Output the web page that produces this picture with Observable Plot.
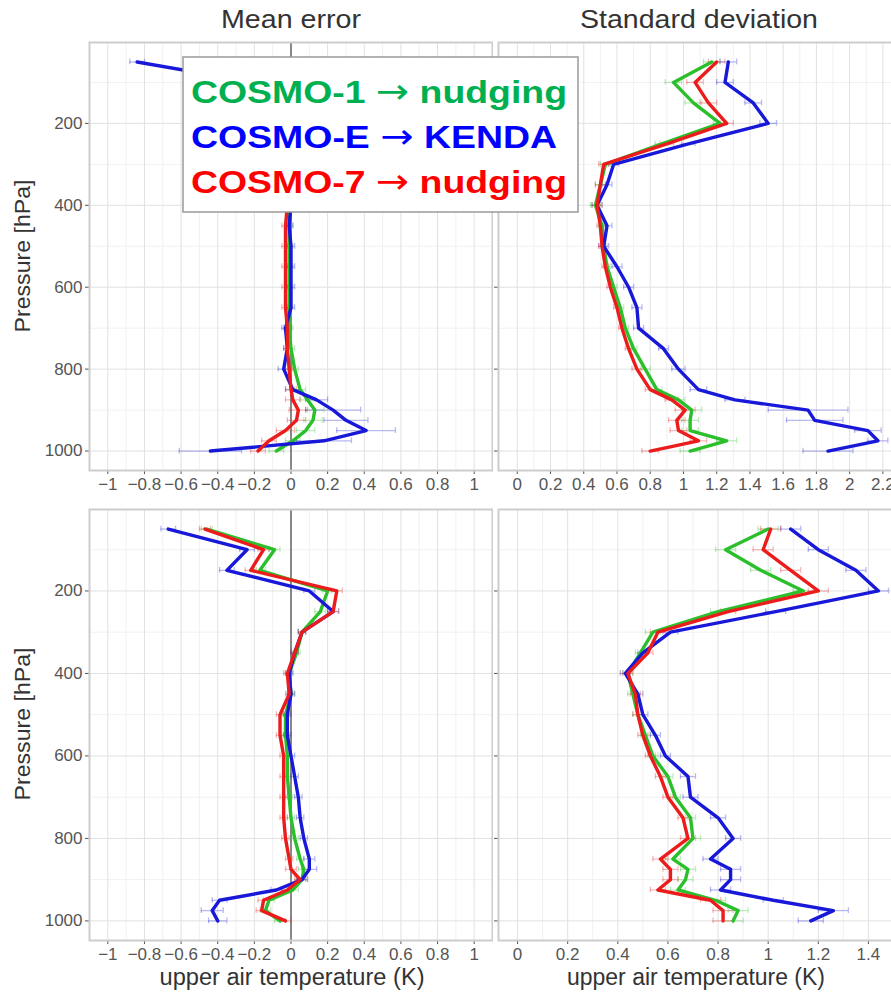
<!DOCTYPE html>
<html>
<head>
<meta charset="utf-8">
<script src="https://cdn.jsdelivr.net/npm/d3@7"></script>
<script src="https://cdn.jsdelivr.net/npm/@observablehq/plot@0.6"></script>
<style>
html, body { margin: 0; padding: 0; background: #fff; overflow: hidden; }
#root { position: relative; width: 891px; height: 994px; overflow: hidden; background: #fff; }
#root > svg { position: absolute; }
</style>
</head>
<body>
<div id="root"></div>
<script>
// ---------- data ----------
const pressure = [50,100,150,200,250,300,350,400,450,500,550,600,650,700,750,800,850,875,900,925,950,975,1000];

const seriesModels = ["COSMO-1", "COSMO-E", "COSMO-7"];
const seriesSchemes = ["nudging", "KENDA", "nudging"];
const panelTitles = ["Mean error", "Standard deviation"];
const xTitle = "upper air temperature (K)";
const yTitle = "Pressure [hPa]";

// top row: mean error
const meanTopGreen = [-0.50,-0.10,-0.05,0.03,0.02,0.00,0.00,-0.01,-0.01,-0.01,-0.01,-0.01,-0.01,-0.01,0.00,0.02,0.05,0.09,0.13,0.12,0.08,0.01,-0.08];
const meanTopBlue  = [-0.84,-0.20,-0.05,0.05,0.02,0.00,0.00,0.00,-0.01,0.00,0.00,0.00,0.00,-0.03,-0.02,-0.04,0.01,0.14,0.23,0.30,0.41,0.18,-0.44];
const meanTopRed   = [-0.45,-0.12,-0.06,0.02,0.01,-0.01,-0.02,-0.02,-0.03,-0.03,-0.03,-0.03,-0.03,-0.02,-0.02,-0.01,0.00,0.01,0.04,0.03,-0.03,-0.12,-0.18];
const meanTopGreenErr = [0.03,0.03,0.03,0.03,0.02,0.02,0.02,0.02,0.02,0.02,0.02,0.02,0.02,0.02,0.02,0.02,0.03,0.04,0.05,0.05,0.05,0.04,0.04];
const meanTopBlueErr  = [0.04,0.04,0.03,0.03,0.03,0.02,0.02,0.02,0.02,0.02,0.02,0.02,0.02,0.02,0.02,0.03,0.04,0.06,0.15,0.12,0.16,0.15,0.17];
const meanTopRedErr   = [0.03,0.03,0.03,0.03,0.02,0.02,0.02,0.02,0.02,0.02,0.02,0.02,0.02,0.02,0.02,0.02,0.03,0.04,0.05,0.05,0.05,0.04,0.04];

// top row: standard deviation
const sdTopGreen = [1.17,0.94,1.06,1.22,0.87,0.53,0.50,0.47,0.51,0.52,0.54,0.58,0.62,0.65,0.70,0.77,0.84,0.97,1.05,1.04,1.04,1.26,1.04];
const sdTopBlue  = [1.27,1.25,1.42,1.51,1.03,0.58,0.54,0.48,0.54,0.52,0.60,0.67,0.72,0.73,0.88,0.97,1.09,1.31,1.75,1.79,2.11,2.17,1.87];
const sdTopRed   = [1.20,1.07,1.15,1.26,0.90,0.52,0.50,0.48,0.50,0.51,0.53,0.56,0.60,0.63,0.67,0.72,0.80,0.93,1.01,0.96,0.97,1.09,0.80];
const sdTopGreenErr = [0.05,0.05,0.05,0.04,0.04,0.03,0.03,0.03,0.02,0.02,0.02,0.02,0.02,0.02,0.02,0.03,0.03,0.04,0.06,0.05,0.05,0.06,0.06];
const sdTopBlueErr  = [0.05,0.05,0.05,0.05,0.04,0.03,0.03,0.03,0.03,0.03,0.03,0.03,0.03,0.03,0.03,0.04,0.05,0.06,0.24,0.17,0.08,0.06,0.15];
const sdTopRedErr   = [0.05,0.05,0.05,0.04,0.04,0.03,0.03,0.03,0.02,0.02,0.02,0.02,0.02,0.02,0.02,0.03,0.03,0.04,0.06,0.05,0.05,0.05,0.05];

// bottom row: mean error
const meanBotGreen = [-0.46,-0.09,-0.17,0.20,0.16,0.06,0.03,-0.01,0.00,-0.03,-0.03,-0.02,-0.02,-0.01,0.00,0.02,0.05,0.07,0.06,0.01,-0.12,-0.14,-0.06];
const meanBotBlue  = [-0.67,-0.24,-0.35,0.10,0.23,0.06,0.02,-0.01,0.00,-0.02,-0.02,0.00,0.02,0.04,0.05,0.07,0.10,0.10,0.06,-0.08,-0.39,-0.43,-0.40];
const meanBotRed   = [-0.47,-0.15,-0.22,0.25,0.23,0.06,0.02,-0.02,-0.01,-0.06,-0.06,-0.04,-0.04,-0.04,-0.04,-0.03,-0.01,0.00,0.05,-0.02,-0.15,-0.16,-0.03];
const meanBotGreenErr = [0.03,0.03,0.03,0.03,0.03,0.02,0.02,0.02,0.02,0.02,0.02,0.02,0.02,0.02,0.02,0.02,0.02,0.03,0.03,0.03,0.03,0.03,0.03];
const meanBotBlueErr  = [0.04,0.04,0.04,0.03,0.03,0.02,0.02,0.02,0.02,0.02,0.02,0.02,0.02,0.02,0.02,0.02,0.03,0.04,0.03,0.03,0.04,0.06,0.05];
const meanBotRedErr   = [0.03,0.03,0.03,0.03,0.03,0.02,0.02,0.02,0.02,0.02,0.02,0.02,0.02,0.02,0.02,0.02,0.02,0.03,0.03,0.03,0.03,0.03,0.03];

// bottom row: standard deviation
const sdBotGreen = [1.00,0.83,0.97,1.14,0.80,0.54,0.49,0.44,0.46,0.48,0.51,0.54,0.60,0.63,0.69,0.70,0.62,0.68,0.67,0.64,0.79,0.88,0.86];
const sdBotBlue  = [1.09,1.20,1.35,1.44,1.03,0.61,0.50,0.43,0.48,0.50,0.55,0.59,0.68,0.69,0.80,0.86,0.77,0.85,0.85,0.81,1.02,1.26,1.17];
const sdBotRed   = [1.01,0.98,1.09,1.20,0.84,0.56,0.52,0.44,0.47,0.48,0.50,0.53,0.57,0.60,0.66,0.68,0.57,0.61,0.61,0.56,0.77,0.82,0.82];
const sdBotGreenErr = [0.04,0.04,0.04,0.04,0.03,0.03,0.02,0.02,0.02,0.02,0.02,0.02,0.02,0.02,0.02,0.03,0.03,0.03,0.03,0.03,0.04,0.04,0.04];
const sdBotBlueErr  = [0.04,0.04,0.04,0.04,0.04,0.03,0.02,0.02,0.02,0.02,0.02,0.02,0.03,0.03,0.03,0.03,0.03,0.04,0.04,0.04,0.04,0.06,0.05];
const sdBotRedErr   = [0.04,0.04,0.04,0.04,0.03,0.03,0.02,0.02,0.02,0.02,0.02,0.02,0.02,0.02,0.02,0.03,0.03,0.03,0.03,0.03,0.04,0.04,0.04];

// ticks
const yTicks = [200,400,600,800,1000];
const yMinor = [100,300,500,700,900];
const meanTicks = [-1,-0.8,-0.6,-0.4,-0.2,0,0.2,0.4,0.6,0.8,1];
const meanMinor = [-0.9,-0.7,-0.5,-0.3,-0.1,0.1,0.3,0.5,0.7,0.9];
const sdTopTicks = [0,0.2,0.4,0.6,0.8,1,1.2,1.4,1.6,1.8,2,2.2];
const sdTopMinor = [0.1,0.3,0.5,0.7,0.9,1.1,1.3,1.5,1.7,1.9,2.1];
const sdBotTicks = [0,0.2,0.4,0.6,0.8,1,1.2,1.4];
const sdBotMinor = [0.1,0.3,0.5,0.7,0.9,1.1,1.3];

// ---------- styling ----------
const lineColors = ["#2cbf2c", "#1818d8", "#ec1c1c"];
const legendColors = ["#00B050", "#0000FF", "#FF0000"];
const FONT = "'Liberation Sans', Arial, Helvetica, sans-serif";
const fmt = d3.format("~g");

function panel(opts) {
  const {values, errs, xDomain, xRange, xTicks, xMinor, zero, yLabels,
         width, height, marginLeft, marginRight, marginTop, marginBottom} = opts;
  const marks = [
    Plot.ruleX(xMinor, {stroke: "#f1f1f1", strokeWidth: 1}),
    Plot.ruleY(yMinor, {stroke: "#f1f1f1", strokeWidth: 1}),
    Plot.ruleX(xTicks, {stroke: "#e1e1e1", strokeWidth: 1}),
    Plot.ruleY(yTicks, {stroke: "#e1e1e1", strokeWidth: 1})
  ];
  if (zero) marks.push(Plot.ruleX([0], {stroke: "#505050", strokeWidth: 1.3}));
  const rowsBySeries = values.map((vals, k) => pressure.map((p, i) => ({
    p, v: vals[i], lo: vals[i] - errs[k][i], hi: vals[i] + errs[k][i]
  })));
  rowsBySeries.forEach((rows, k) => {
    const c = lineColors[k];
    marks.push(Plot.ruleY(rows, {y: "p", x1: "lo", x2: "hi", stroke: c, strokeOpacity: 0.3, strokeWidth: 1.3}));
    marks.push(Plot.ruleX(rows, {x: "lo", y1: d => d.p - 7, y2: d => d.p + 7, stroke: c, strokeOpacity: 0.3, strokeWidth: 1.3}));
    marks.push(Plot.ruleX(rows, {x: "hi", y1: d => d.p - 7, y2: d => d.p + 7, stroke: c, strokeOpacity: 0.3, strokeWidth: 1.3}));
  });
  rowsBySeries.forEach((rows, k) => {
    marks.push(Plot.line(rows, {x: "v", y: "p", stroke: lineColors[k], strokeWidth: 3.4,
      strokeLinejoin: "round", strokeLinecap: "round"}));
  });
  marks.push(Plot.frame({stroke: "#cdcdcd", strokeWidth: 2}));
  return Plot.plot({
    width, height, marginLeft, marginRight, marginTop, marginBottom,
    x: {domain: xDomain, range: xRange, ticks: xTicks, tickSize: 4, tickPadding: 3,
        tickFormat: fmt, label: null},
    y: {domain: [2.5, 1047.5], reverse: true, ticks: yTicks, tickSize: 4, tickPadding: 3,
        tickFormat: yLabels ? (d => String(d)) : (() => ""), label: null},
    style: {background: "none", fontSize: "17px", fontFamily: FONT, color: "#555555",
            overflow: "hidden", maxWidth: "none"},
    marks
  });
}

const root = document.getElementById("root");
function place(svg, left, top) {
  svg.style.left = left + "px";
  svg.style.top = top + "px";
  root.appendChild(svg);
}

place(panel({
  values: [meanTopGreen, meanTopBlue, meanTopRed],
  errs: [meanTopGreenErr, meanTopBlueErr, meanTopRedErr],
  xDomain: [-1.1, 1.1], xRange: [89, 492], xTicks: meanTicks, xMinor: meanMinor, zero: true, yLabels: true,
  width: 493, height: 505, marginLeft: 89, marginRight: 1, marginTop: 42, marginBottom: 35
}), 0, 0);

place(panel({
  values: [sdTopGreen, sdTopBlue, sdTopRed],
  errs: [sdTopGreenErr, sdTopBlueErr, sdTopRedErr],
  xDomain: [-0.113, 2.264], xRange: [48, 443], xTicks: sdTopTicks, xMinor: sdTopMinor, zero: false, yLabels: false,
  width: 441, height: 505, marginLeft: 48, marginRight: -2, marginTop: 42, marginBottom: 35
}), 450, 0);

place(panel({
  values: [meanBotGreen, meanBotBlue, meanBotRed],
  errs: [meanBotGreenErr, meanBotBlueErr, meanBotRedErr],
  xDomain: [-1.1, 1.1], xRange: [89, 492], xTicks: meanTicks, xMinor: meanMinor, zero: true, yLabels: true,
  width: 493, height: 524, marginLeft: 89, marginRight: 1, marginTop: 39, marginBottom: 54
}), 0, 470);

place(panel({
  values: [sdBotGreen, sdBotBlue, sdBotRed],
  errs: [sdBotGreenErr, sdBotBlueErr, sdBotRedErr],
  xDomain: [-0.076, 1.5], xRange: [48, 443], xTicks: sdBotTicks, xMinor: sdBotMinor, zero: false, yLabels: false,
  width: 441, height: 524, marginLeft: 48, marginRight: -2, marginTop: 39, marginBottom: 54
}), 450, 470);

// ---------- text overlay (titles, axis titles, legend) ----------
const ov = d3.select(root).append("svg")
  .attr("width", 891).attr("height", 994)
  .style("left", "0px").style("top", "0px")
  .style("pointer-events", "none")
  .attr("font-family", FONT);

function fitText(sel, w) {
  sel.attr("textLength", w).attr("lengthAdjust", "spacingAndGlyphs");
  return sel;
}

// strip titles
fitText(ov.append("text").attr("x", 291).attr("y", 28).attr("text-anchor", "middle")
  .attr("font-size", 26).attr("fill", "#333").text(panelTitles[0]), 140);
fitText(ov.append("text").attr("x", 699).attr("y", 28).attr("text-anchor", "middle")
  .attr("font-size", 26).attr("fill", "#333").text(panelTitles[1]), 238);

// y titles
[256, 724].forEach(cy => {
  fitText(ov.append("text").attr("transform", `translate(30,${cy}) rotate(-90)`)
    .attr("text-anchor", "middle").attr("font-size", 22).attr("fill", "#333").text(yTitle), 153);
});

// x titles
fitText(ov.append("text").attr("x", 292).attr("y", 985).attr("text-anchor", "middle")
  .attr("font-size", 23).attr("fill", "#333").text(xTitle), 265);
fitText(ov.append("text").attr("x", 696).attr("y", 985).attr("text-anchor", "middle")
  .attr("font-size", 23).attr("fill", "#333").text(xTitle), 258);

// legend box
ov.append("rect").attr("x", 183).attr("y", 57).attr("width", 395).attr("height", 155)
  .attr("fill", "#fff").attr("stroke", "#9a9a9a").attr("stroke-width", 1.5);
const legendWidths = [376, 366, 376];
seriesModels.forEach((model, i) => {
  const t = ov.append("text").attr("x", 191).attr("y", 103 + i * 45)
    .attr("font-size", 32).attr("font-weight", "bold").attr("fill", legendColors[i]);
  t.append("tspan").text(model + " ");
  t.append("tspan").attr("font-family", "'DejaVu Sans', sans-serif").attr("font-weight", "normal")
    .attr("font-size", 34).text("\u2192");
  t.append("tspan").text(" " + seriesSchemes[i]);
  fitText(t, legendWidths[i]);
});
</script>
</body>
</html>
